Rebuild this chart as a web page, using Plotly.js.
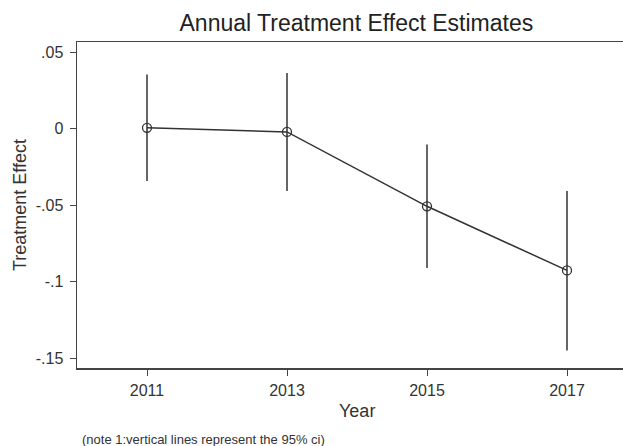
<!DOCTYPE html>
<html>
<head>
<meta charset="utf-8">
<script src="https://cdn.plot.ly/plotly-3.0.1.min.js"></script>
<style>html,body{margin:0;padding:0;background:#fff;}#chart{width:623px;height:446px;}</style>
</head>
<body>
<div id="chart"></div>
<script>
const years = [2011, 2013, 2015, 2017];
const estimates = [0.0007, -0.002, -0.0506, -0.0925];
const ciUpper = [0.0356, 0.0366, -0.0102, -0.0406];
const ciLower = [-0.034, -0.0406, -0.091, -0.1448];
const yTickVals = [0.05, 0, -0.05, -0.1, -0.15];
const yTickText = ['.05', '0', '-.05', '-.1', '-.15'];

const ink = '#333333';
const font = 'Liberation Sans, Arial, sans-serif';

const trace = {
  x: years,
  y: estimates,
  type: 'scatter',
  mode: 'lines+markers',
  line: {color: ink, width: 1.5},
  marker: {symbol: 'circle-open', size: 9, color: ink, line: {color: ink, width: 1.3}},
  error_y: {
    type: 'data',
    symmetric: false,
    array: estimates.map((v, i) => ciUpper[i] - v),
    arrayminus: estimates.map((v, i) => v - ciLower[i]),
    color: ink,
    thickness: 1.5,
    width: 0
  },
  showlegend: false
};

const layout = {
  width: 623,
  height: 446,
  margin: {l: 77, r: 0, t: 42, b: 78},
  paper_bgcolor: '#ffffff',
  plot_bgcolor: '#ffffff',
  font: {family: font, color: ink},
  title: {text: 'Annual Treatment Effect Estimates', font: {size: 23, color: '#222'}, x: 0.572, xanchor: 'center', y: 0.948, yanchor: 'middle'},
  xaxis: {
    range: [2010, 2017.8],
    tickvals: years,
    ticktext: years.map(String),
    showgrid: false, zeroline: false,
    showline: true, linecolor: '#444', linewidth: 1.5, mirror: true,
    ticks: 'outside', ticklen: 6, tickcolor: '#444', tickwidth: 1,
    tickfont: {size: 16, color: ink},
    ticklabelstandoff: 1
  },
  yaxis: {
    range: [-0.1563, 0.0568],
    tickvals: yTickVals,
    ticktext: yTickText,
    showgrid: false, zeroline: false,
    showline: true, linecolor: '#444', linewidth: 1.5,
    ticks: 'outside', ticklen: 6, tickcolor: '#444', tickwidth: 1,
    tickfont: {size: 16, color: ink},
    ticklabelstandoff: 3,
    title: {text: 'Treatment Effect', font: {size: 18, color: ink}, standoff: 4}
  },
  annotations: [{
    text: 'Year',
    xref: 'paper', yref: 'paper', x: 0.513, y: -0.132,
    xanchor: 'center', yanchor: 'middle', showarrow: false,
    font: {size: 18, color: ink}
  }, {
    text: '(note 1:vertical lines represent the 95% ci)',
    xref: 'paper', yref: 'paper', x: 0.005, y: -0.218,
    xanchor: 'left', yanchor: 'middle', showarrow: false,
    font: {size: 13, color: ink}
  }]
};

Plotly.newPlot('chart', [trace], layout, {displayModeBar: false, staticPlot: true});
</script>
</body>
</html>
